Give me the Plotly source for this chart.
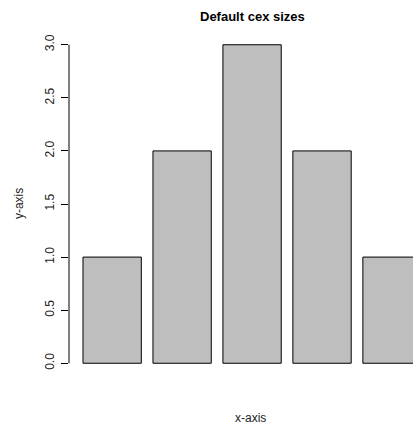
import plotly.graph_objects as go

# Data
categories = [0.7, 1.9, 3.1, 4.3, 5.5]   # bar centres (R barplot: width 1, space 0.2)
values = [1, 2, 3, 2, 1]
y_ticks = [0.0, 0.5, 1.0, 1.5, 2.0, 2.5, 3.0]
y_tick_labels = ["0.0", "0.5", "1.0", "1.5", "2.0", "2.5", "3.0"]
title_text = "Default cex sizes"
x_label = "x-axis"
y_label = "y-axis"

FONT = "Liberation Sans, Arial, sans-serif"

fig = go.Figure()
fig.add_trace(go.Bar(
    x=categories, y=values, width=1.0,
    marker=dict(color="#BEBEBE", line=dict(color="black", width=1)),
    hoverinfo="skip",
))

fig.update_layout(
    width=413, height=425,
    margin=dict(l=69, r=0, t=32, b=49),
    paper_bgcolor="white", plot_bgcolor="white",
    showlegend=False,
    font=dict(family=FONT, size=12, color="black"),
    xaxis=dict(range=[-0.04, 5.86], showticklabels=False, showgrid=False,
               zeroline=False, showline=False, ticks=""),
    yaxis=dict(range=[-0.12, 3.12], tickvals=y_ticks, ticktext=y_tick_labels,
               tickangle=-90, ticks="outside", ticklen=7, tickwidth=1,
               tickcolor="black", showgrid=False, zeroline=False, showline=False,
               ticklabelstandoff=2, tickfont=dict(size=12, color="#222")),
    shapes=[dict(type="line", xref="paper", yref="y", x0=0, x1=0,
                 y0=min(y_ticks), y1=max(y_ticks),
                 line=dict(color="black", width=1))],
    annotations=[
        dict(text="<b>" + title_text + "</b>", xref="paper", yref="paper",
             x=0.532, y=1.0465, xanchor="center", yanchor="middle",
             showarrow=False, font=dict(size=13, color="black")),
        dict(text=x_label, xref="paper", yref="paper",
             x=0.527, y=-0.122, xanchor="center", yanchor="middle",
             showarrow=False, font=dict(size=12, color="#222")),
        dict(text=y_label, xref="paper", yref="paper", textangle=-90,
             x=-0.145, y=0.5, xanchor="center", yanchor="middle",
             showarrow=False, font=dict(size=12, color="#222")),
    ],
)

fig.write_html("out.html", config={"displayModeBar": False, "staticPlot": True},
               post_script="document.body.style.margin='0';document.body.style.overflow='hidden';")
